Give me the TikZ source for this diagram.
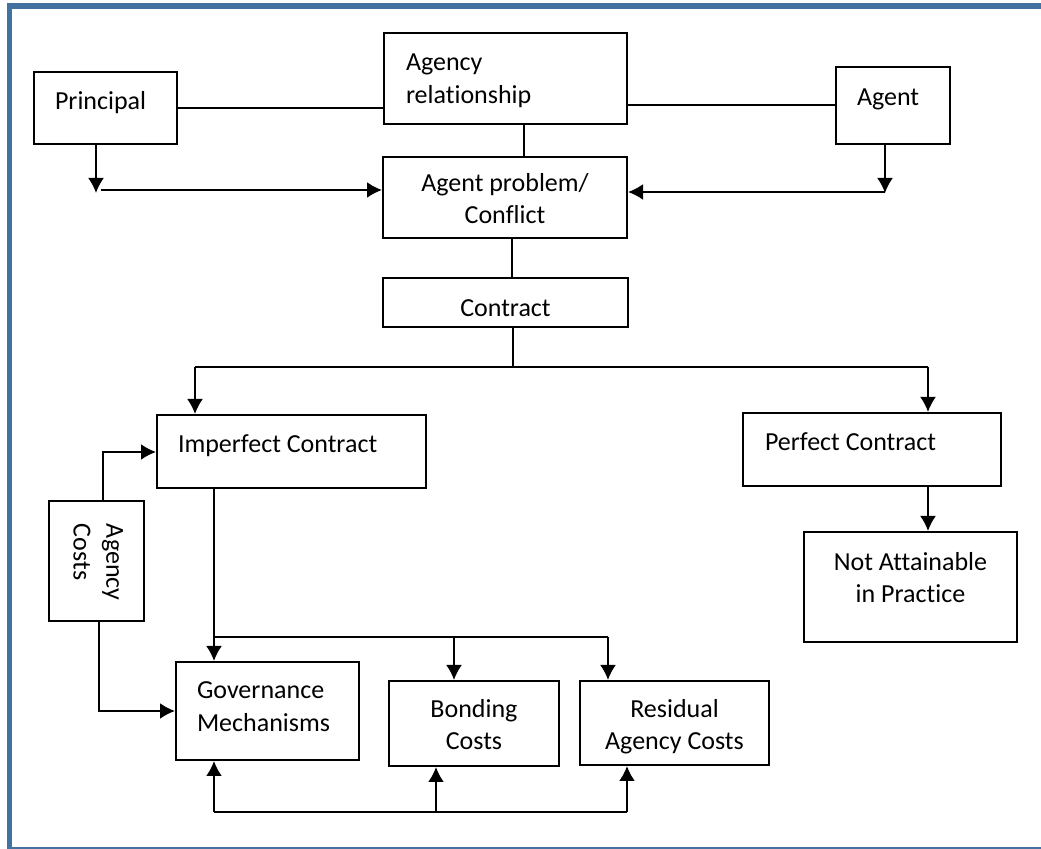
\documentclass[tikz,border=0pt]{standalone}
\usepackage{fontspec}
\setmainfont{Carlito}[Ligatures=NoCommon]
\usetikzlibrary{arrows.meta,fit}

\definecolor{framebar}{RGB}{68,114,160}

\begin{document}
\begin{tikzpicture}[x=0.5pt,y=-0.5pt,>={Latex[length=7.5pt,width=8pt]},line width=1pt,
    box/.style={draw,rectangle,inner sep=0pt},
    txt/.style={inner sep=0pt,font=\fontsize{13}{16.4}\selectfont,execute at begin node=\strut}]
    \useasboundingbox (0,0) rectangle (1041,849);

    % page frame
    \fill[framebar] (7,3) rectangle (1041,9);
    \fill[framebar] (7,3) rectangle (12,849);
    \fill[framebar] (7,847) rectangle (1041,848.6);

    % boxes
    \node[box,fit={(34,72) (177,144)}] (princ) {};
    \node[box,fit={(384,33) (627,124)}] (agrel) {};
    \node[box,fit={(836,67) (950,144)}] (agent) {};
    \node[box,fit={(383,157) (627,238)}] (conflict) {};
    \node[box,fit={(383,278) (628,327)}] (contract) {};
    \node[box,fit={(157,415) (426,488)}] (imperf) {};
    \node[box,fit={(743,413) (1001,486)}] (perf) {};
    \node[box,fit={(804,532) (1017,642)}] (notatt) {};
    \node[box,fit={(49,501) (144,621)}] (agcost) {};
    \node[box,fit={(176,662) (359,760)}] (gov) {};
    \node[box,fit={(389,681) (559,766)}] (bond) {};
    \node[box,fit={(580,681) (769,765)}] (resid) {};

    % texts
    \node[txt,anchor=north west] (princt) at (54,86) {Principal};
    \node[txt,anchor=north west,align=left] (agrelt) at (405,53) {Agency\\relationship};
    \node[txt,anchor=north west] (agentt) at (856,82) {Agent};
    \node[txt,anchor=north,align=center] (conflictt) at (505,172) {Agent problem/\\Conflict};
    \node[txt,anchor=north] (contractt) at (505.5,293) {Contract};
    \node[txt,anchor=north west] (imperft) at (177,429) {Imperfect Contract};
    \node[txt,anchor=north west] (perft) at (764,427) {Perfect Contract};
    \node[txt,anchor=north,align=center] (notattt) at (910.5,551) {Not Attainable\\in Practice};
    \node[txt,anchor=north west,align=left,rotate=-90] (agcostt) at (124,523) {Agency\\Costs};
    \node[txt,anchor=north west,align=left] (govt) at (196,681) {Governance\\Mechanisms};
    \node[txt,anchor=north,align=center] (bondt) at (474,698) {Bonding\\Costs};
    \node[txt,anchor=north,align=center] (residt) at (674.5,698) {Residual\\Agency Costs};

    % junction points
    \coordinate (pD) at (96,193);
    \coordinate (pH) at (101,190);
    \coordinate (aD) at (885,193);
    \coordinate (aH) at (885,192);
    \coordinate (split) at (513,367);
    \coordinate (bL) at (195,367);
    \coordinate (bR) at (928,367);
    \coordinate (kT) at (103,452);
    \coordinate (kB) at (99,711);
    \coordinate (iJ) at (214,637);
    \coordinate (iM) at (454,637);
    \coordinate (iR) at (608,637);
    \coordinate (fL) at (214,812);
    \coordinate (fM) at (436,812);
    \coordinate (fR) at (627,812);

    % top part
    \draw (princ.east) -- (princ.east -| agrel.west);
    \draw (agent.west) -- (agent.west -| agrel.east);
    \draw ([xshift=9.25pt]agrel.south) -- ([xshift=9.25pt]agrel.south |- conflict.north);
    \draw[->] (princ.south -| pD) -- (pD);
    \draw[->] (pH) -- (pH -| conflict.west);
    \draw[->] (agent.south -| aD) -- (aD);
    \draw[->] (aH) -- (aH -| conflict.east);
    \draw ([xshift=3.5pt]conflict.south) -- ([xshift=3.5pt]conflict.south |- contract.north);

    % contract split
    \draw (contract.south -| split) -- (split);
    \draw (bL) -- (bR);
    \draw[->] (bL) -- (bL |- imperf.north);
    \draw[->] (bR) -- (bR |- perf.north);
    \draw[->] (bR |- perf.south) -- (bR |- notatt.north);

    % agency costs
    \draw[->] (agcost.north -| kT) -- (kT) -- (kT -| imperf.west);
    \draw[->] (agcost.south -| kB) -- (kB) -- (kB -| gov.west);

    % mechanisms
    \draw[->] (imperf.south -| iJ) -- (iJ |- gov.north);
    \draw (iJ) -- (iR);
    \draw[->] (iM) -- (iM |- bond.north);
    \draw[->] (iR) -- (iR |- resid.north);
    \draw (fL) -- (fR);
    \draw[->] (fL) -- (fL |- gov.south);
    \draw[->] (fM) -- (fM |- bond.south);
    \draw[->] (fR) -- (fR |- resid.south);
\end{tikzpicture}
\end{document}
